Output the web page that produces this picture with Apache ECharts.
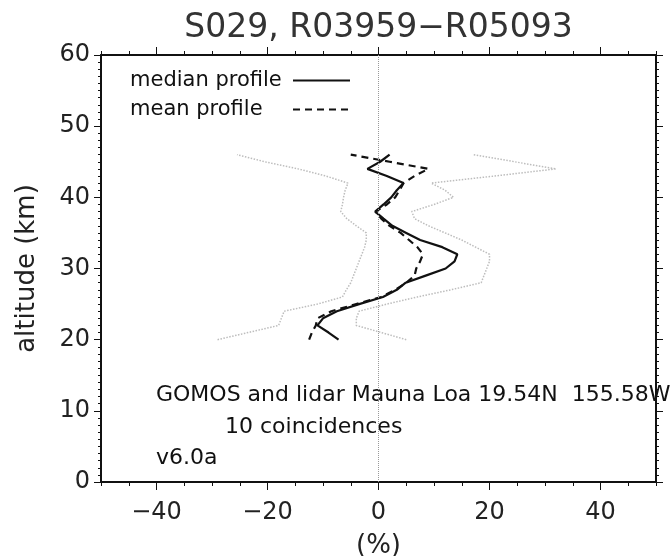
<!DOCTYPE html>
<html>
<head>
<meta charset="utf-8">
<script src="https://cdn.jsdelivr.net/npm/echarts@6/dist/echarts.min.js"></script>
<style>
html,body{margin:0;padding:0;background:#fff;}
#chart{width:672px;height:556px;}
</style>
</head>
<body>
<div id="chart"></div>
<script>
// ---- data ----
const altitudes = [20,21,22,23,24,25,26,27,28,29,30,31,32,33,34,35,36,37,38,39,40,41,42,43,44,45,46];
const medianProfile = [-7.2,-9.0,-11.0,-10.0,-7.5,-3.5,0.8,3.3,4.9,8.5,12.1,13.7,14.2,11.5,7.5,5.0,2.5,0.9,-0.6,0.9,2.3,3.3,4.5,1.5,-2.0,0.3,2.0];
const meanProfile   = [-12.5,-12.0,-11.3,-11.0,-8.5,-4.0,0.5,3.0,5.0,6.5,6.8,7.5,8.0,7.0,5.5,4.0,2.0,0.5,-0.5,1.5,3.0,3.8,4.5,6.5,9.0,2.0,-5.0];
const lowerBound    = [-29.0,-23.5,-18.0,-17.5,-17.0,-11.0,-6.5,-5.8,-5.0,-4.5,-4.0,-3.5,-3.0,-2.5,-2.2,-2.2,-4.0,-5.7,-6.8,-6.5,-6.3,-6.0,-5.5,-9.5,-14.5,-20.5,-25.5];
const upperBound    = [5.0,0.5,-4.0,-4.0,-3.5,1.5,7.0,13.0,18.5,19.0,19.5,20.0,20.0,17.5,15.0,12.0,9.0,6.5,6.0,10.0,13.5,12.0,9.5,21.0,32.0,24.5,17.0];

// axis tick values
const xMajorTicks = [-40,-20,0,20,40];

const titleText = 'S029, R03959\u2212R05093';
const seriesNames = ['median profile','mean profile'];
const noteLines = ['GOMOS and lidar Mauna Loa 19.54N  155.58W','10 coincidences','v6.0a'];

const FONT = 'DejaVu Sans';
const INK = '#111';
const X_MIN = -50, X_MAX = 50, Y_MIN = 0, Y_MAX = 60;
const pair = vals => vals.map((v,i)=>[v, altitudes[i]]);
const fmt = v => v < 0 ? '\u2212' + (-v) : String(v);

const chart = echarts.init(document.getElementById('chart'), null, {renderer:'canvas'});

function minorX(pos){
  return {type:'value', position:pos, min:X_MIN, max:X_MAX, interval:5,
    axisLine:{show:true, onZero:false, lineStyle:{color:INK, width:2}},
    axisTick:{show:true, inside:false, length:4, lineStyle:{color:INK}},
    axisLabel:{show:false}, splitLine:{show:false}};
}
function majorX(pos){
  return {type:'value', position:pos, min:X_MIN, max:X_MAX,
    axisLine:{show:false, onZero:false},
    axisTick:{show:true, inside:false, length:8, customValues:xMajorTicks, lineStyle:{color:INK}},
    axisLabel:{show:false}, splitLine:{show:false}};
}
function yAx(pos){
  return {type:'value', position:pos, min:Y_MIN, max:Y_MAX, interval:10,
    axisLine:{show:true, onZero:false, lineStyle:{color:INK, width:2}},
    axisTick:{show:true, inside:false, length:7, lineStyle:{color:INK}},
    minorTick:{show:true, splitNumber:10, length:3, lineStyle:{color:INK}},
    axisLabel:{show:false}, splitLine:{show:false}, minorSplitLine:{show:false}};
}

const xBottom = minorX('bottom');
xBottom.axisLabel = {show:true, margin:19, fontFamily:FONT, fontSize:24, color:'#222',
  formatter:v => (Math.round(v)%20===0 ? fmt(v) : '')};
xBottom.name = '(%)';
xBottom.nameLocation = 'middle';
xBottom.nameGap = 51;
xBottom.nameTextStyle = {fontFamily:FONT, fontSize:26, color:'#222'};

const yLeft = yAx('left');
yLeft.axisLabel = {show:true, margin:11, fontFamily:FONT, fontSize:24, color:'#222'};
yLeft.name = 'altitude (km)';
yLeft.nameLocation = 'middle';
yLeft.nameGap = 61;
yLeft.nameRotate = 90;
yLeft.nameTextStyle = {fontFamily:FONT, fontSize:26, color:'#222'};

const option = {
  backgroundColor:'#fff',
  animation:false,
  grid:{show:false, left:101, right:16, top:55, bottom:74, containLabel:false, outerBoundsMode:'none'},
  legend:{
    data:seriesNames,
    orient:'vertical',
    left:130, top:70,
    padding:0,
    align:'right',
    itemWidth:57, itemHeight:14, itemGap:8,
    selectedMode:false,
    itemStyle:{opacity:0},
    formatter:name => '{t|' + name + '}',
    textStyle:{fontFamily:FONT, fontSize:21, color:INK, lineHeight:20,
      rich:{t:{width:158, align:'left', fontFamily:FONT, fontSize:21, color:INK, lineHeight:20}}}
  },
  xAxis:[xBottom, majorX('bottom'), minorX('top'), majorX('top')],
  yAxis:[yLeft, yAx('right')],
  series:[
    {name:'lower', type:'line', xAxisIndex:0, yAxisIndex:0, data:pair(lowerBound),
     symbol:'none', lineStyle:{color:'#bdbdbd', width:1.5, type:'dotted'}, z:1,
     markLine:{silent:true, symbol:['none','none'], label:{show:false},
       lineStyle:{color:'#999', width:1, type:'dotted'}, data:[{xAxis:0}]}},
    {name:'upper', type:'line', xAxisIndex:0, yAxisIndex:0, data:pair(upperBound),
     symbol:'none', lineStyle:{color:'#bdbdbd', width:1.5, type:'dotted'}, z:1},
    {name:seriesNames[0], type:'line', xAxisIndex:0, yAxisIndex:0, data:pair(medianProfile),
     symbol:'none', color:'#111', lineStyle:{color:'#111', width:2.2, type:'solid'}, z:3},
    {name:seriesNames[1], type:'line', xAxisIndex:0, yAxisIndex:0, data:pair(meanProfile),
     symbol:'none', color:'#111', lineStyle:{color:'#111', width:2.2, type:[7,5]}, z:2}
  ],
  graphic:[
    {type:'text', x:378.5, y:28, style:{text:titleText, fontFamily:FONT, fontSize:33, fill:'#333', align:'center', verticalAlign:'middle'}},
    {type:'text', x:156, y:395, style:{text:noteLines[0], fontFamily:FONT, fontSize:22, fill:INK, align:'left', verticalAlign:'middle'}},
    {type:'text', x:225, y:427, style:{text:noteLines[1], fontFamily:FONT, fontSize:22, fill:INK, align:'left', verticalAlign:'middle'}},
    {type:'text', x:156, y:458, style:{text:noteLines[2], fontFamily:FONT, fontSize:22, fill:INK, align:'left', verticalAlign:'middle'}}
  ]
};
chart.setOption(option);
</script>
</body>
</html>
